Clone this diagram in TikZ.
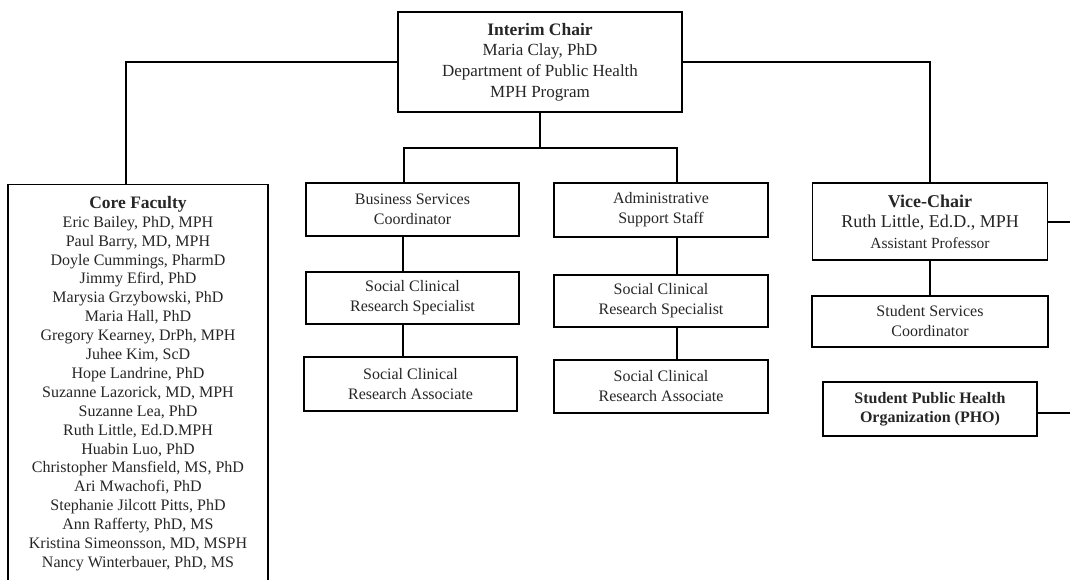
\documentclass[tikz,border=0pt]{standalone}
\usepackage{fontspec}
\setmainfont{Liberation Serif}
\begin{document}
\begin{tikzpicture}[x=1pt,y=-1pt,
  box/.style={draw, line width=1.1pt, align=center, inner sep=0pt, text=black!85},
  link/.style={line width=1.1pt},
  body/.style={font=\fontsize{16}{20}\selectfont}
]
\useasboundingbox[fill=white] (0,0) rectangle (1070,579);
% nodes
\node[box, minimum width=284pt, minimum height=100pt, font=\fontsize{17}{20.7}\selectfont] (chair) at (540,62)
  {\textbf{\fontsize{17.5}{20.7}\selectfont Interim Chair}\\Maria Clay, PhD\\Department of Public Health\\MPH Program};
\node[box, anchor=north, minimum width=260pt, minimum height=398pt, font=\fontsize{16}{18.9}\selectfont] (core) at (138,184)
  {\textbf{\fontsize{17.5}{18.9}\selectfont Core Faculty}\\
   Eric Bailey, PhD, MPH\\
   Paul Barry, MD, MPH\\
   Doyle Cummings, PharmD\\
   Jimmy Efird, PhD\\
   Marysia Grzybowski, PhD\\
   Maria Hall, PhD\\
   Gregory Kearney, DrPh, MPH\\
   Juhee Kim, ScD\\
   Hope Landrine, PhD\\
   Suzanne Lazorick, MD, MPH\\
   Suzanne Lea, PhD\\
   Ruth Little, Ed.D.MPH\\
   Huabin Luo, PhD\\
   Christopher Mansfield, MS, PhD\\
   Ari Mwachofi, PhD\\
   Stephanie Jilcott Pitts, PhD\\
   Ann Rafferty, PhD, MS\\
   Kristina Simeonsson, MD, MSPH\\
   Nancy Winterbauer, PhD, MS};
\node[box, body, minimum width=213pt, minimum height=53pt] (bsc) at (412.5,209.5) {Business Services\\Coordinator};
\node[box, body, minimum width=213pt, minimum height=52pt] (spec1) at (412.5,298) {Social Clinical\\Research Specialist};
\node[box, body, minimum width=213pt, minimum height=54pt] (assoc1) at (410.5,384) {Social Clinical\\Research Associate};
\node[box, body, minimum width=214pt, minimum height=54pt] (adm) at (661,210) {Administrative\\Support Staff};
\node[box, body, minimum width=214pt, minimum height=52pt] (spec2) at (661,301) {Social Clinical\\Research Specialist};
\node[box, body, minimum width=214pt, minimum height=53pt] (assoc2) at (661,386.5) {Social Clinical\\Research Associate};
\node[box, minimum width=235pt, minimum height=77pt, font=\fontsize{18}{20.5}\selectfont] (vice) at (930,221.5)
  {\textbf{\fontsize{18}{20.5}\selectfont Vice-Chair}\\Ruth Little, Ed.D., MPH\\{\fontsize{15.5}{20.5}\selectfont Assistant Professor}};
\node[box, body, minimum width=236pt, minimum height=51pt] (ssc) at (930,321.5) {Student Services\\Coordinator};
\node[box, minimum width=214pt, minimum height=54pt, font=\fontsize{16}{19.5}\selectfont\bfseries] (pho) at (930,409) {Student Public Health\\Organization (PHO)};
% coordinates
\coordinate (bar) at (540,148);
\coordinate (edgeA) at (1072,222);
\coordinate (edgeB) at (1072,413);
% connectors
\draw[link] (chair.west) -| ([xshift=-12pt]core.north);
\draw[link] (chair.east) -| (vice.north);
\draw[link] (chair.south) -- (bar);
\draw[link] ([xshift=-8.5pt]bsc.north) |- (bar) -| ([xshift=16pt]adm.north);
\draw[link] ([xshift=-9.5pt]bsc.south) -- ([xshift=-9.5pt]bsc.south |- spec1.north);
\draw[link] ([xshift=-9.5pt]spec1.south) -- ([xshift=-9.5pt]spec1.south |- assoc1.north);
\draw[link] ([xshift=16pt]adm.south) -- ([xshift=16pt]adm.south |- spec2.north);
\draw[link] ([xshift=16pt]spec2.south) -- ([xshift=16pt]spec2.south |- assoc2.north);
\draw[link] (vice.south) -- (ssc.north);
\draw[link] (vice.east |- edgeA) -- (edgeA);
\draw[link] (pho.east |- edgeB) -- (edgeB);
\end{tikzpicture}
\end{document}
